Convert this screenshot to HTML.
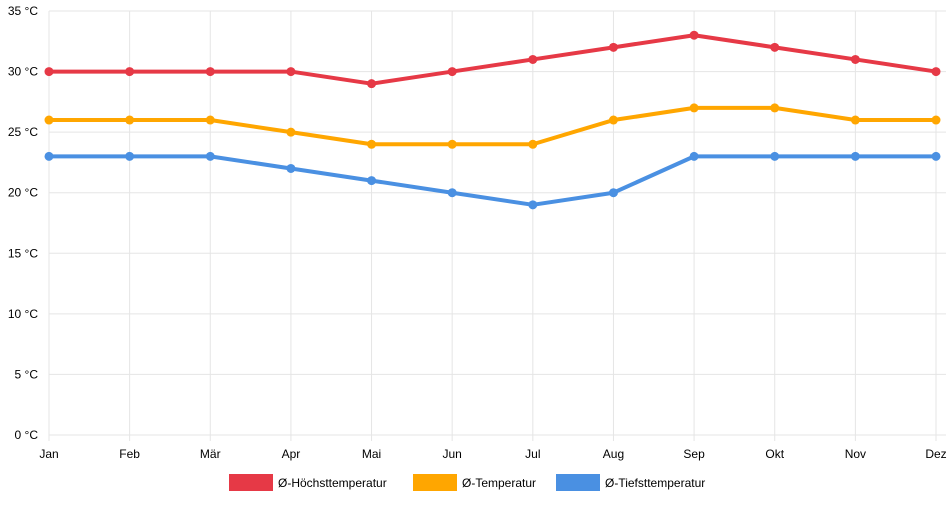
<!DOCTYPE html>
<html><head><meta charset="utf-8"><style>
body{margin:0;background:#fff;font-family:"Liberation Sans",sans-serif}
svg text{font-family:"Liberation Sans",sans-serif;font-size:12px;fill:#000}
</style></head><body>
<svg id="chart" width="952" height="500" xmlns="http://www.w3.org/2000/svg"></svg>
<script>
const categories=["Jan","Feb","Mär","Apr","Mai","Jun","Jul","Aug","Sep","Okt","Nov","Dez"];
const highTemps=[30,30,30,30,29,30,31,32,33,32,31,30];
const avgTemps=[26,26,26,25,24,24,24,26,27,27,26,26];
const lowTemps=[23,23,23,22,21,20,19,20,23,23,23,23];
const yTicks=[0,5,10,15,20,25,30,35];
const seriesNames=["Ø-Höchsttemperatur","Ø-Temperatur","Ø-Tiefsttemperatur"];
const svg=document.getElementById('chart');
const NS="http://www.w3.org/2000/svg";
const x0=49,x1=936,y0=435,yTop=11,yMax=35;
const xs=i=>x0+(x1-x0)*i/(categories.length-1);
const ys=v=>y0-(y0-yTop)*v/yMax;
function mk(t,a){const e=document.createElementNS(NS,t);for(const k in a)e.setAttribute(k,a[k]);svg.appendChild(e);return e;}
yTicks.forEach(v=>{
 const l=mk('line',{x1:x0,x2:x1+10,y1:ys(v),y2:ys(v),stroke:'#e5e5e5','stroke-width':1});
 
 
 const t=mk('text',{x:38,y:ys(v)+4,'text-anchor':'end'});t.textContent=v+' °C';
 
 
});
categories.forEach((c,i)=>{
 const l=mk('line',{x1:xs(i),x2:xs(i),y1:yTop,y2:y0+6,stroke:'#e5e5e5','stroke-width':1});
 
 
 const t=mk('text',{x:xs(i),y:458,'text-anchor':'middle'});t.textContent=c;
 
 
});
const series=[[highTemps,'#e63946'],[avgTemps,'#ffa600'],[lowTemps,'#4a90e2']];
series.forEach(([d,col],si)=>{
 const p=mk('polyline',{points:d.map((v,i)=>xs(i)+','+ys(v)).join(' '),fill:'none',stroke:col,'stroke-width':4,'stroke-linejoin':'round'});
 
 
 d.forEach((v,i)=>{
  const c=mk('circle',{cx:xs(i),cy:ys(v),r:4.5,fill:col});
  
  
 });
});
const legX=[229,413,556];
series.forEach(([d,col],si)=>{
 const r=mk('rect',{x:legX[si],y:474,width:44,height:17,fill:col});
 
 
 const t=mk('text',{x:legX[si]+49,y:487});t.textContent=seriesNames[si];
 
 
});
</script>
</body></html>
